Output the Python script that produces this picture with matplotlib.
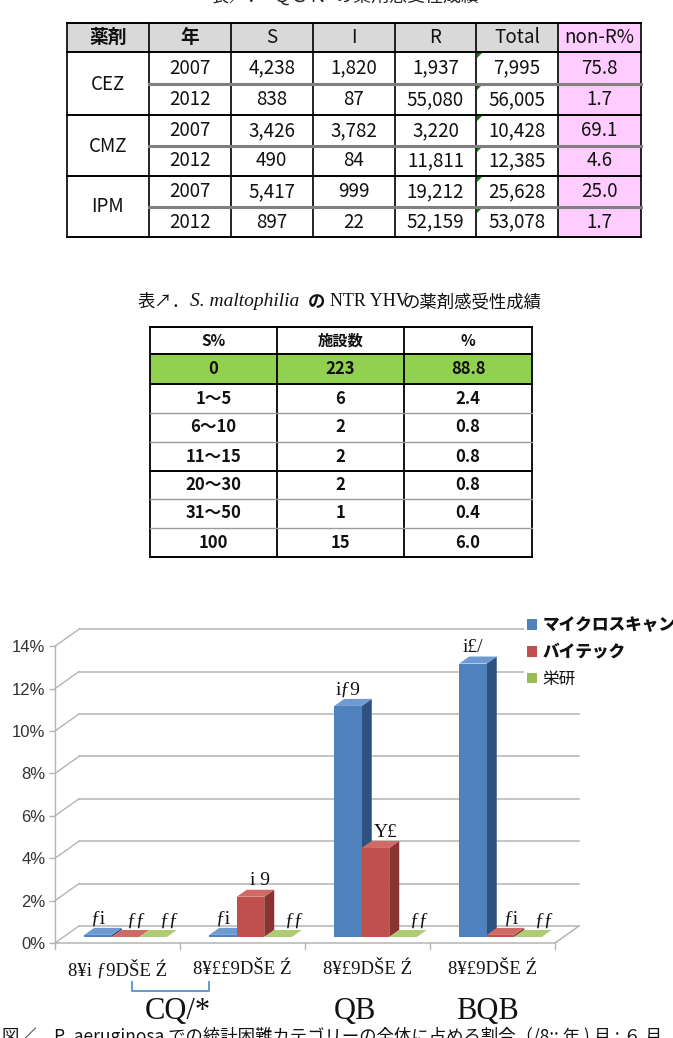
import matplotlib
matplotlib.use('Agg')
import matplotlib.pyplot as plt
from matplotlib.patches import Rectangle, Polygon, Patch

plt.rcParams['font.family'] = ['Noto Sans CJK JP', 'DejaVu Sans']

# ---------------- data ----------------
# table 1
t1_header = ['薬剤', '年', 'S', 'I', 'R', 'Total', 'non-R%']
t1_drugs = ['CEZ', 'CMZ', 'IPM']
t1_years = ['2007', '2012', '2007', '2012', '2007', '2012']
t1_S = ['4,238', '838', '3,426', '490', '5,417', '897']
t1_I = ['1,820', '87', '3,782', '84', '999', '22']
t1_R = ['1,937', '55,080', '3,220', '11,811', '19,212', '52,159']
t1_total = ['7,995', '56,005', '10,428', '12,385', '25,628', '53,078']
t1_nonR = ['75.8', '1.7', '69.1', '4.6', '25.0', '1.7']

# table 2
t2_header = ['S%', '施設数', '%']
t2_range = ['0', '1～5', '6～10', '11～15', '20～30', '31～50', '100']
t2_count = ['223', '6', '2', '2', '2', '1', '15']
t2_pct = ['88.8', '2.4', '0.8', '0.8', '0.8', '0.4', '6.0']

# chart
series_names = ['マイクロスキャン', 'バイテック', '栄研']
blue_vals = [0.1, 0.1, 10.9, 12.9]
red_vals = [0.0, 1.9, 4.2, 0.1]
green_vals = [0.0, 0.0, 0.0, 0.0]
blue_lbls = ['ƒi', 'ƒi', 'iƒ9', 'i£/']
red_lbls = ['ƒƒ', 'i 9', 'Y£', 'ƒi']
green_lbls = ['ƒƒ', 'ƒƒ', 'ƒƒ', 'ƒƒ']
cat_labels = ['8¥i ƒ9DŠE Ź', '8¥££9DŠE Ź', '8¥£9DŠE Ź', '8¥£9DŠE Ź']
group_labels = ['CQ/*', 'QB', 'BQB']
yticks = [0, 2, 4, 6, 8, 10, 12, 14]

W, H = 673, 1038
fig = plt.figure(figsize=(W / 100, H / 100), dpi=100)
bg = fig.add_axes([0, 0, 1, 1])
bg.set_xlim(0, W)
bg.set_ylim(H, 0)
bg.axis('off')

# ---------------- title 1 (cut off at top) ----------------
bg.text(345, 6, '表／．  ＱＳＮ  の薬剤感受性成績', ha='center', va='bottom',
        fontsize=13, color='#222222')

# ---------------- table 1 ----------------
xs1 = [67, 148.5, 231, 312.5, 395, 476, 558, 641]
ys1 = [23, 52, 84, 115, 146, 176, 207, 237]
bg.add_patch(Rectangle((xs1[0], ys1[0]), xs1[6] - xs1[0], ys1[1] - ys1[0],
                       facecolor='#d9d9d9', edgecolor='none'))
bg.add_patch(Rectangle((xs1[6], ys1[0]), xs1[7] - xs1[6], ys1[7] - ys1[0],
                       facecolor='#ffccff', edgecolor='none'))
for x in xs1:
    bg.plot([x, x], [ys1[0], ys1[7]], color='black', lw=1.2)
for y in [ys1[0], ys1[1], ys1[3], ys1[5], ys1[7]]:
    bg.plot([xs1[0], xs1[7]], [y, y], color='black', lw=1.4)
for y in [ys1[2], ys1[4], ys1[6]]:
    bg.plot([xs1[1], xs1[7]], [y, y], color='#808080', lw=2.2)
for j, h in enumerate(t1_header):
    bg.text((xs1[j] + xs1[j + 1]) / 2, (ys1[0] + ys1[1]) / 2, h, ha='center', va='center',
            fontsize=13.5, fontweight='bold' if j < 2 else 'normal', color='#111111')
for k, d in enumerate(t1_drugs):
    bg.text((xs1[0] + xs1[1]) / 2, ys1[1 + 2 * k + 1], d, ha='center', va='center',
            fontsize=13.5, color='#111111')
cols1 = [t1_years, t1_S, t1_I, t1_R, t1_total, t1_nonR]
for i in range(6):
    yc = (ys1[i + 1] + ys1[i + 2]) / 2
    for j, col in enumerate(cols1):
        bg.text((xs1[j + 1] + xs1[j + 2]) / 2, yc, col[i], ha='center', va='center',
                fontsize=13.5, color='#111111')
    # little green error markers
    bg.add_patch(Polygon([[xs1[5] + 1, ys1[i + 1] + 1], [xs1[5] + 6, ys1[i + 1] + 1],
                          [xs1[5] + 1, ys1[i + 1] + 6]], closed=True,
                         facecolor='#008000', edgecolor='none'))

# ---------------- title 2 ----------------
bg.text(138, 302, '表↗．', ha='left', va='center', fontsize=12.5, color='#111111')
bg.text(190, 302, 'S. maltophilia', ha='left', va='center', fontsize=14,
        family='Liberation Serif', style='italic', color='#111111')
bg.text(308, 302, 'の', ha='left', va='center', fontsize=12.5, fontweight='bold', color='#111111')
bg.text(330, 302, 'NTR YHV', ha='left', va='center', fontsize=13, family='Liberation Serif',
        color='#111111')
bg.text(402, 302, 'の薬剤感受性成績', ha='left', va='center', fontsize=12.5, color='#111111')

# ---------------- table 2 ----------------
xs2 = [150, 277, 404, 532]
ys2 = [327, 354, 384, 413, 442, 471, 499, 528, 557]
bg.add_patch(Rectangle((xs2[0], ys2[1]), xs2[3] - xs2[0], ys2[2] - ys2[1],
                       facecolor='#92d050', edgecolor='none'))
for x in xs2:
    bg.plot([x, x], [ys2[0], ys2[8]], color='black', lw=1.3)
for k, y in enumerate(ys2):
    black = k in (0, 1, 2, 5, 8)
    bg.plot([xs2[0], xs2[3]], [y, y], color='black' if black else '#9a9a9a',
            lw=1.4 if black else 1.0)
for j, h in enumerate(t2_header):
    bg.text((xs2[j] + xs2[j + 1]) / 2, (ys2[0] + ys2[1]) / 2, h, ha='center', va='center',
            fontsize=11, fontweight='bold', color='#111111')
for i in range(len(t2_range)):
    yc = (ys2[i + 1] + ys2[i + 2]) / 2
    for j, col in enumerate([t2_range, t2_count, t2_pct]):
        bg.text((xs2[j] + xs2[j + 1]) / 2, yc, col[i], ha='center', va='center',
                fontsize=12, fontweight='bold', color='#111111')

# ---------------- chart ----------------
px_x, px_y = 125.0, 21.2      # pixels per category / per percent
x0, y0 = 55, 943               # front-left corner of floor
ax = fig.add_axes([x0 / W, (H - y0) / H, 4 * px_x / W, 14 * px_y / H])
ax.set_xlim(0, 4)
ax.set_ylim(0, 14)
ax.patch.set_alpha(0)
for s in ax.spines.values():
    s.set_visible(False)

dxw, dyw = 24 / px_x, 17 / px_y     # back wall depth
bx, by = 8 / px_x, 6 / px_y         # bar offset from front
dxb, dyb = 10 / px_x, 7 / px_y      # bar depth
bw = 27.5 / px_x

grid_c = '#b4b4b4'
for v in yticks:
    ax.plot([dxw, 4 + dxw], [v + dyw, v + dyw], color=grid_c, lw=1.1, clip_on=False, zorder=1)
    ax.plot([0, dxw], [v, v + dyw], color=grid_c, lw=1.0, clip_on=False, zorder=1)
ax.plot([0, 0], [0, 14], color=grid_c, lw=1.0, clip_on=False, zorder=1)
ax.plot([0, 4, 4 + dxw], [0, 0, dyw], color=grid_c, lw=1.1, clip_on=False, zorder=1)
for c in range(5):
    ax.plot([c, c], [0, -0.3], color=grid_c, lw=1.0, clip_on=False, zorder=1)

ax.set_xticks([])
ax.set_yticks(yticks)
ax.set_yticklabels([f'{v}%' for v in yticks], family=['Liberation Sans', 'DejaVu Sans'],
                   fontsize=12, color='#333333')
ax.tick_params(axis='y', length=4, width=1, color=grid_c, pad=3)

faces = {
    'blue': ('#4f81bd', '#2f5180', '#6f9bd2'),
    'red': ('#c0504d', '#8a3432', '#d06a67'),
    'green': ('#9bbb59', '#6f8a3a', '#b0cc72'),
}
series = [(blue_vals, blue_lbls, 'blue', -bw, 0.0),
          (red_vals, red_lbls, 'red', 0.0, 0.08),
          (green_vals, green_lbls, 'green', bw, 0.13)]
for c in range(4):
    for vals, lbls, key, off, loff in series:
        front, side, top = faces[key]
        xl = c + 0.5 + bx + off - bw / 2
        v = vals[c]
        yt = by + v
        ax.add_patch(Polygon([[xl + bw, by], [xl + bw + dxb, by + dyb], [xl + bw + dxb, yt + dyb],
                              [xl + bw, yt]], closed=True, facecolor=side, edgecolor='none',
                             clip_on=False, zorder=3))
        ax.add_patch(Polygon([[xl, yt], [xl + bw, yt], [xl + bw + dxb, yt + dyb], [xl + dxb, yt + dyb]],
                             closed=True, facecolor=top, edgecolor='none', clip_on=False, zorder=3))
        bars = ax.bar([xl], [v], width=bw, bottom=by, align='edge', color=front,
                      edgecolor='none', zorder=3)
        for b in bars:
            b.set_clip_on(False)
        ax.text(xl + bw / 2 + loff, yt + 0.75, lbls[c], ha='center', va='center',
                family='Liberation Serif', fontsize=14, color='#111111', zorder=5)

for c, lab in enumerate(cat_labels):
    ax.text(c + 0.5, -1.27, lab, ha='center', va='center', family='Liberation Serif',
            fontsize=13.5, color='#111111', clip_on=False)

# bracket between first two category labels
bg.plot([132, 132, 209, 209], [982, 991, 991, 982], color='#5b8fd0', lw=1.3)

for xc, lab in zip([178, 355, 487], group_labels):
    bg.text(xc, 1011, lab, ha='center', va='center', family='Liberation Serif',
            fontsize=22, color='#111111')

handles = [Patch(facecolor=faces[k][0], edgecolor='none') for k in ('blue', 'red', 'green')]
leg = fig.legend(handles, series_names, loc='upper left', bbox_to_anchor=(524 / W, 1 - 613 / H),
                 frameon=True, facecolor='white', edgecolor='none', framealpha=1,
                 fontsize=12, handlelength=0.6, handleheight=0.6, handletextpad=0.3,
                 labelspacing=0.55, borderpad=0.2, borderaxespad=0)
for t, wt in zip(leg.get_texts(), ['heavy', 'heavy', 'normal']):
    t.set_fontweight(wt)
    t.set_color('#111111')

# caption (cut off at bottom)
bg.text(2, 1036, '図／．P. aeruginosa での統計困難カテゴリーの全体に占める割合（/8:: 年 ) 月 ; ６ 月',
        ha='left', va='center', fontsize=12.5, color='#111111')

fig.savefig('out.png', dpi=100)
